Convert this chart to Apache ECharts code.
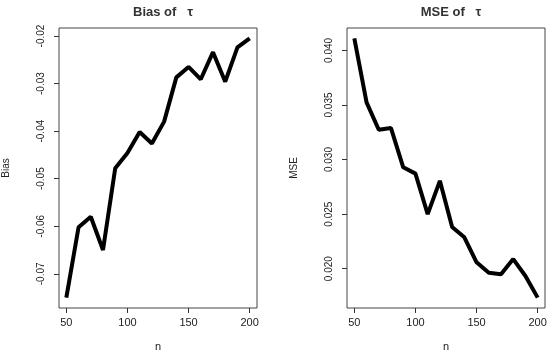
<!DOCTYPE html>
<html>
<head>
<meta charset="utf-8">
<script src="https://cdn.jsdelivr.net/npm/echarts@6/dist/echarts.min.js"></script>
<style>html,body{margin:0;padding:0;background:#fff}#c{width:550px;height:357px}</style>
</head>
<body>
<div id="c"></div>
<script>
const nValues = [50,60,70,80,90,100,110,120,130,140,150,160,170,180,190,200];
const biasValues = [-0.0750,-0.0602,-0.0580,-0.0650,-0.0478,-0.0446,-0.0402,-0.0426,-0.0380,-0.0287,-0.0265,-0.0291,-0.0234,-0.0296,-0.0224,-0.0205];
const mseValues = [0.0411,0.03524,0.03273,0.03288,0.02929,0.02871,0.0250,0.02805,0.02382,0.02288,0.02059,0.01962,0.0195,0.02088,0.01933,0.01735];
const xTicks = [50,100,150,200];
const biasTicks = [-0.07,-0.06,-0.05,-0.04,-0.03,-0.02];
const mseTicks = [0.020,0.025,0.030,0.035,0.040];
const biasTickLabels = ['-0.07','-0.06','-0.05','-0.04','-0.03','-0.02'];
const mseTickLabels = ['0.020','0.025','0.030','0.035','0.040'];
const titles = ['Bias of   \u03c4', 'MSE of   \u03c4'];
const yNames = ['Bias', 'MSE'];
const xName = 'n';

function rRange(arr){
  const mn = Math.min(...arr), mx = Math.max(...arr);
  const e = (mx - mn) * 0.04;
  return [mn - e, mx + e];
}
const xr = rRange(nValues), br = rRange(biasValues), mr = rRange(mseValues);

const chart = echarts.init(document.getElementById('c'), null, {renderer:'canvas'});
const tickFont = {fontFamily:'Liberation Sans, Arial, sans-serif', color:'#222'};
function xAxis(gi){
  return {
    gridIndex: gi, type:'value', min:xr[0], max:xr[1],
    name: xName, nameLocation:'middle', nameGap:33,
    nameTextStyle:{fontSize:11, color:'#222', fontFamily:'Liberation Sans, Arial'},
    axisLine:{show:false}, splitLine:{show:false},
    axisTick:{show:true, length:5, inside:false, customValues:xTicks, lineStyle:{color:'#333'}},
    axisLabel:{customValues:xTicks, fontSize:11, margin:9, ...tickFont}
  };
}
function yAxis(gi, rng, ticks, labels){
  return {
    gridIndex: gi, type:'value', min:rng[0], max:rng[1],
    name: yNames[gi], nameLocation:'middle', nameGap: 48, nameRotate:90,
    nameTextStyle:{fontSize:10, color:'#222', fontFamily:'Liberation Sans Narrow, Liberation Sans, Arial'},
    axisLine:{show:false}, splitLine:{show:false},
    axisTick:{show:true, length:5, customValues:ticks, lineStyle:{color:'#333'}},
    axisLabel:{customValues:ticks, rotate:90, fontSize:10, margin:13,
      fontFamily:'Liberation Sans Narrow, Liberation Sans, Arial', color:'#222',
      formatter:function(v){ const i = ticks.findIndex(t=>Math.abs(t-v)<1e-9); return i>=0?labels[i]:''; }}
  };
}
const titleStyle = {fontSize:13, fontWeight:'bold', color:'#333', fontFamily:'Liberation Sans, Arial'};
chart.setOption({
  animation:false,
  title:[
    {text:titles[0], left:158, top:1, textAlign:'center', textStyle:titleStyle},
    {text:titles[1], left:446, top:1, textAlign:'center', textStyle:titleStyle}
  ],
  grid:[
    {left:59, top:28, width:198, height:289, show:true, borderColor:'#444', borderWidth:1, backgroundColor:'transparent'},
    {left:347, top:28, width:198, height:289, show:true, borderColor:'#444', borderWidth:1, backgroundColor:'transparent'}
  ],
  xAxis:[xAxis(0), xAxis(1)],
  yAxis:[yAxis(0, br, biasTicks, biasTickLabels), yAxis(1, mr, mseTicks, mseTickLabels)],
  series:[
    {type:'line', xAxisIndex:0, yAxisIndex:0, data:nValues.map((n,i)=>[n,biasValues[i]]), symbol:'none', lineStyle:{color:'#000', width:4}, clip:false},
    {type:'line', xAxisIndex:1, yAxisIndex:1, data:nValues.map((n,i)=>[n,mseValues[i]]), symbol:'none', lineStyle:{color:'#000', width:4}, clip:false}
  ]
});
</script>
</body>
</html>
